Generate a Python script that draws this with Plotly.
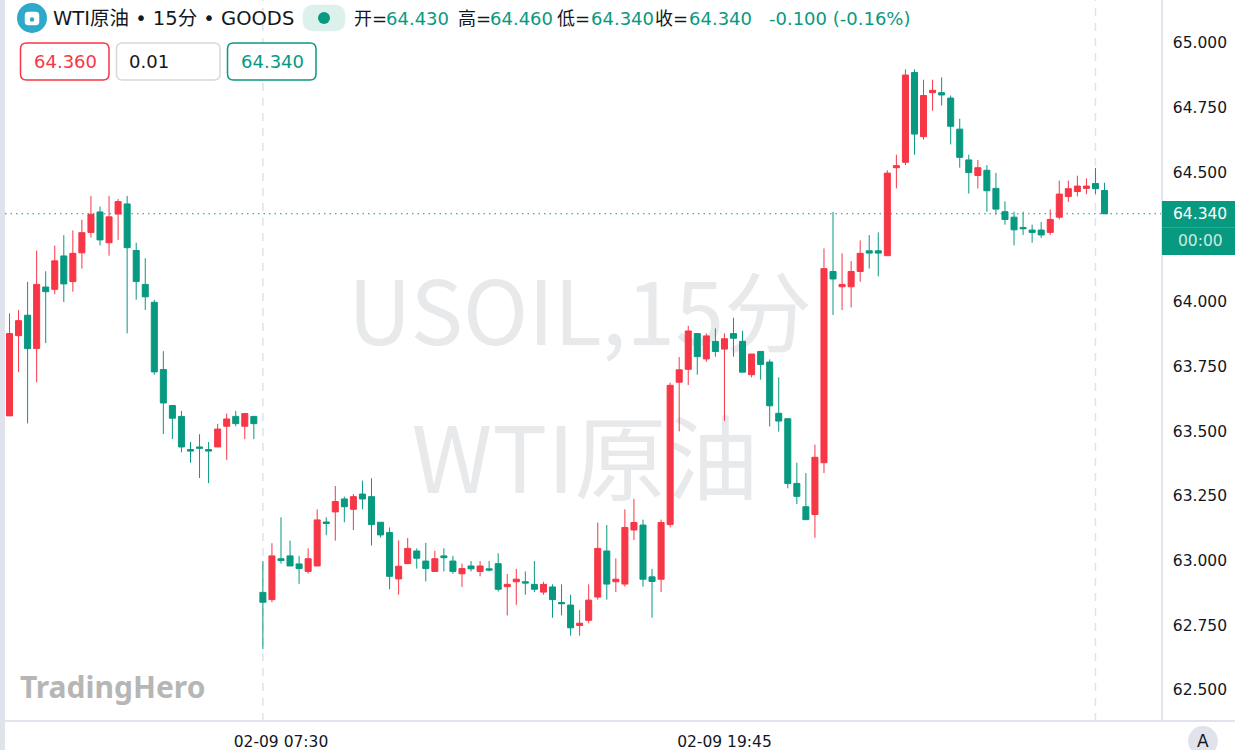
import plotly.graph_objects as go

bar_index = list(range(122))
opens = [63.559,63.869,63.948,63.819,64.057,64.048,64.177,64.078,64.189,64.268,64.347,64.228,64.339,64.378,64.198,64.067,63.998,63.738,63.599,63.557,63.429,63.439,63.429,63.439,63.519,63.557,63.519,63.557,
62.877,62.849,63.007,63.018,62.987,62.958,62.979,63.149,63.188,63.238,63.198,63.257,63.247,63.148,63.108,62.929,62.988,63.037,62.998,62.958,63.018,62.998,62.949,62.979,62.958,62.968,62.988,62.899,62.918,62.918,62.908,62.878,62.898,62.838,62.828,62.749,62.769,62.859,63.037,62.918,62.909,63.118,63.137,62.937,62.928,63.139,63.689,63.739,63.877,63.779,63.847,63.817,63.877,63.847,63.718,63.808,63.767,63.569,63.548,63.298,63.208,63.178,63.378,64.117,64.058,64.058,64.117,64.197,64.197,64.178,64.518,64.539,64.886,64.638,64.808,64.808,64.787,64.667,64.548,64.488,64.508,64.438,64.348,64.327,64.287,64.277,64.277,64.268,64.327,64.407,64.426,64.438,64.457,64.430]
highs = [63.955,63.968,64.077,64.198,64.118,64.217,64.257,64.276,64.317,64.409,64.368,64.409,64.397,64.409,64.228,64.168,64.008,63.809,63.599,63.578,63.458,63.488,63.458,63.528,63.568,63.578,63.568,63.557,
62.998,63.067,63.167,63.077,63.018,63.047,63.198,63.167,63.288,63.247,63.257,63.309,63.318,63.148,63.128,63.078,63.087,63.047,63.068,63.038,63.047,63.018,62.988,62.998,62.998,62.998,63.028,62.948,62.968,62.958,62.998,62.918,62.908,62.908,62.868,62.809,62.908,63.147,63.137,63.008,63.198,63.238,63.158,62.968,63.158,63.687,63.786,63.907,63.878,63.878,63.897,63.878,63.938,63.888,63.798,63.808,63.777,63.708,63.548,63.378,63.338,63.448,64.206,64.347,64.187,64.157,64.237,64.258,64.268,64.508,64.568,64.898,64.898,64.858,64.858,64.867,64.797,64.707,64.568,64.548,64.528,64.498,64.388,64.348,64.348,64.298,64.308,64.357,64.468,64.468,64.487,64.477,64.517,64.460]
lows = [63.559,63.729,63.530,63.689,63.840,64.029,63.999,64.039,64.128,64.248,64.218,64.178,64.239,63.878,64.008,63.968,63.718,63.489,63.469,63.418,63.378,63.319,63.299,63.439,63.389,63.519,63.469,63.469,
62.658,62.839,62.988,62.979,62.910,62.949,62.979,63.098,63.077,63.148,63.118,63.198,63.058,63.089,62.889,62.868,62.988,62.969,62.919,62.958,62.958,62.949,62.898,62.958,62.939,62.958,62.880,62.788,62.829,62.868,62.878,62.868,62.779,62.788,62.710,62.710,62.758,62.849,62.849,62.878,62.899,63.079,62.899,62.779,62.878,63.128,63.499,63.678,63.718,63.768,63.788,63.540,63.788,63.728,63.708,63.699,63.518,63.498,63.279,63.218,63.158,63.088,63.338,63.949,63.968,63.978,64.077,64.128,64.098,64.178,64.438,64.528,64.568,64.627,64.738,64.758,64.608,64.518,64.418,64.438,64.348,64.337,64.298,64.218,64.258,64.228,64.247,64.258,64.318,64.386,64.407,64.416,64.416,64.340]
closes = [63.877,63.927,63.819,64.067,64.039,64.158,64.069,64.187,64.267,64.338,64.239,64.328,64.387,64.209,64.078,64.019,63.729,63.609,63.550,63.439,63.423,63.434,63.423,63.508,63.547,63.529,63.568,63.529,
62.839,63.018,63.000,62.979,62.969,63.007,63.157,63.143,63.228,63.208,63.247,63.238,63.139,63.099,62.939,62.978,63.047,63.009,62.969,63.007,63.011,62.958,62.969,62.968,62.979,62.963,62.889,62.908,62.928,62.913,62.889,62.908,62.849,62.833,62.740,62.758,62.847,63.047,62.909,62.928,63.128,63.147,62.928,62.919,63.147,63.677,63.737,63.887,63.788,63.868,63.808,63.857,63.859,63.728,63.798,63.758,63.598,63.539,63.298,63.248,63.158,63.399,64.128,64.088,64.067,64.117,64.187,64.188,64.188,64.497,64.526,64.876,64.648,64.797,64.817,64.799,64.678,64.558,64.499,64.518,64.429,64.358,64.318,64.278,64.282,64.268,64.258,64.318,64.416,64.437,64.447,64.447,64.437,64.340]

price_ticks = [62.5,62.75,63.0,63.25,63.5,63.75,64.0,64.5,64.75,65.0]
time_tick_pos = [30,79]
time_tick_text = ["02-09 07:30","02-09 19:45"]
session_lines = [28,120]
last_price = 64.34

RED="#f73646"; GREEN="#089981"; GRID="#e0e3eb"; FONT="DejaVu Sans, Noto Sans CJK SC, sans-serif"
CJK="Noto Sans CJK SC, sans-serif"
L,R,B=5,1161,721
X=lambda p:(p-L)/(R-L)
Y=lambda p:1-p/B

def rrect(x0,y0,x1,y1,r,fill,line,lw=1.5):
    a,b,c,d=X(x0),X(x1),Y(y0),Y(y1); rx=r/(R-L); ry=r/B
    path=(f"M {a+rx} {c} L {b-rx} {c} Q {b} {c} {b} {c-ry} L {b} {d+ry} Q {b} {d} {b-rx} {d} "
          f"L {a+rx} {d} Q {a} {d} {a} {d+ry} L {a} {c-ry} Q {a} {c} {a+rx} {c} Z")
    return dict(type="path",xref="paper",yref="paper",path=path,fillcolor=fill,line=dict(color=line,width=lw),layer="above")
def circ(cx,cy,r,fill):
    return dict(type="circle",xref="paper",yref="paper",x0=X(cx-r),x1=X(cx+r),y0=Y(cy+r),y1=Y(cy-r),fillcolor=fill,line_width=0,layer="above")
def rect(x0,y0,x1,y1,fill):
    return dict(type="rect",xref="paper",yref="paper",x0=X(x0),x1=X(x1),y0=Y(y1),y1=Y(y0),fillcolor=fill,line_width=0,layer="above")
def txt(x,y,s,size,color,anchor="left",family=FONT,**kw):
    return dict(xref="paper",yref="paper",x=X(x),y=Y(y),text=s,showarrow=False,xanchor=anchor,yanchor="middle",
                font=dict(size=size,color=color,family=family),**kw)

shapes=[]
for b in session_lines:
    shapes.append(dict(type="line",xref="x",yref="paper",x0=b,x1=b,y0=0,y1=1,layer="below",
                       line=dict(color=GRID,width=1.5,dash="8px,7px")))
shapes.append(dict(type="line",xref="paper",yref="y",x0=0,x1=1,y0=last_price,y1=last_price,layer="above",
                   line=dict(color=GREEN,width=1,dash="1.5px,4px")))
WM="#e8e9eb"
shapes.append(dict(type="rect",xref="paper",yref="paper",x0=X(300),x1=X(860),y0=Y(375),y1=Y(265),layer="below",line_width=0,
                   label=dict(text="USOIL,15分",textposition="middle center",font=dict(size=88,color=WM,family=CJK))))
shapes.append(dict(type="rect",xref="paper",yref="paper",x0=X(305),x1=X(865),y0=Y(522),y1=Y(412),layer="below",line_width=0,
                   label=dict(text="WTI原油",textposition="middle center",font=dict(size=92,color=WM,family=CJK))))
shapes+=[
    rect(0,0,5,750,GRID),
    dict(type="line",xref="paper",yref="paper",x0=0,x1=X(1235),y0=0,y1=0,line=dict(color=GRID,width=2),layer="above"),
    circ(32,18,15,"#2fa9c9"),
    rrect(25,12,39,25,3,"#ffffff","#ffffff",0.5),
    circ(32,19.5,2.2,"#2fa9c9"),
    rrect(303,5,345,31,11,"#dcf0ec","#dcf0ec",0.5),
    circ(324,18,6,GREEN),
    rrect(20.5,43,109,80,6,"#ffffff",RED),
    rrect(116.5,43,220,80,6,"#ffffff","#d6d8de"),
    rrect(227.5,43,316,80,6,"#ffffff",GREEN),
    rect(1162,201,1235,255,GREEN),
    dict(type="line",xref="paper",yref="paper",x0=X(1162),x1=X(1235),y0=Y(227.5),y1=Y(227.5),line=dict(color="#2fa98f",width=1),layer="above"),
    circ(1203,741,15,GRID),
]
G=GREEN
annotations=[
    txt(51,19,"WTI原油 • 15分 • GOODS",19.5,"#131722"),
    txt(352,19,"开=",18,"#131722"),txt(384,19,"64.430",18,G),
    txt(456,19,"高=",18,"#131722"),txt(488,19,"64.460",18,G),
    txt(555,19,"低=",18,"#131722"),txt(589,19,"64.340",18,G),
    txt(653,19,"收=",18,"#131722"),txt(687,19,"64.340",18,G),
    txt(767,19,"-0.100 (-0.16%)",18,G),
    txt(65,62,"64.360",18,RED,"center"),
    txt(127,62,"0.01",18,"#131722"),
    txt(272,62,"64.340",18,G,"center"),
    txt(1171,214,"64.340",15.5,"#ffffff"),
    txt(1176,241,"00:00",15.5,"#cdeae3"),
    txt(1203,741,"A",17,"#131722","center"),
    txt(18,686,"<b>TradingHero</b>",30,"#b6b6b6",family="Noto Sans, sans-serif"),
]

fig=go.Figure(go.Candlestick(x=bar_index,open=opens,high=highs,low=lows,close=closes,whiskerwidth=0,
    increasing=dict(line=dict(color=RED,width=1),fillcolor=RED),
    decreasing=dict(line=dict(color=GREEN,width=1),fillcolor=GREEN),showlegend=False))
fig.update_layout(width=1235,height=750,margin=dict(l=L,r=1235-R,t=0,b=750-B,autoexpand=False),
    paper_bgcolor="#ffffff",plot_bgcolor="#ffffff",boxgap=0.05,showlegend=False,
    font=dict(family=FONT,size=15.5,color="#131722"),shapes=shapes,annotations=annotations,
    xaxis=dict(range=[-0.497,127.24],rangeslider=dict(visible=False),showgrid=False,zeroline=False,
               tickmode="array",tickvals=time_tick_pos,ticktext=time_tick_text,ticks="outside",ticklen=6,tickcolor="rgba(0,0,0,0)",
               showline=False,automargin=False),
    yaxis=dict(range=[62.380,65.166],side="right",showgrid=False,zeroline=False,tickmode="array",tickvals=price_ticks,
               tickformat=".3f",ticks="outside",ticklen=7,tickcolor="rgba(0,0,0,0)",showline=True,linecolor=GRID,linewidth=1.5,automargin=False))
fig.write_html("out.html",config={"displayModeBar":False},
    post_script="document.body.style.margin='0';document.body.style.overflow='hidden';")
